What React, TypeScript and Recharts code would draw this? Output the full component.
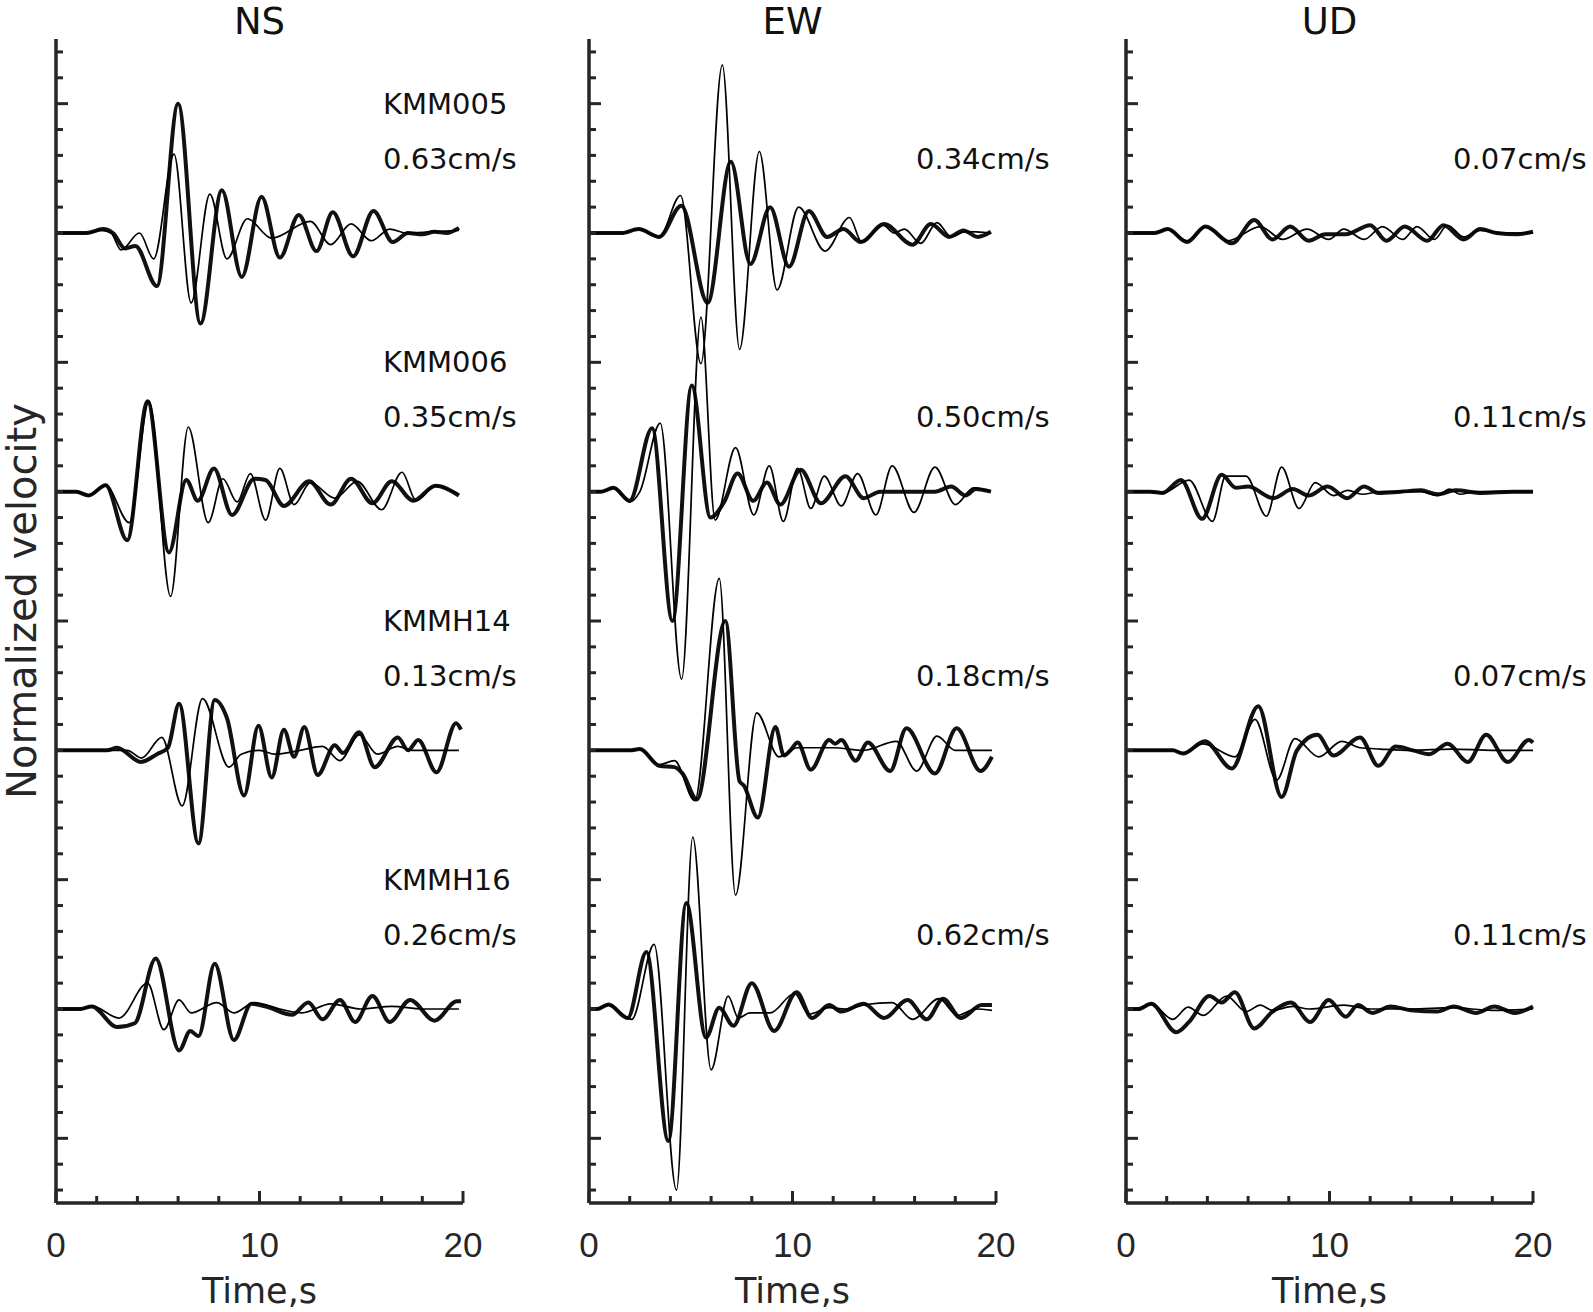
import React from "react";
import { LineChart, Line, XAxis, YAxis } from "recharts";

type Pt = [number, number];

const COMPONENTS = ["NS", "EW", "UD"];
const STATIONS = ["KMM005", "KMM006", "KMMH14", "KMMH16"];
const PEAK_NS = [0.63, 0.35, 0.13, 0.26];
const PEAK_EW = [0.34, 0.5, 0.18, 0.62];
const PEAK_UD = [0.07, 0.11, 0.07, 0.11];
const X_TICKS = [0, 2, 4, 6, 8, 10, 12, 14, 16, 18, 20];
const X_LABELS = [0, 10, 20];
const Y_MAJOR = [1, -1, -3, -5, -7];

// minor ticks every 0.2 on the normalized scale
const Y_TICKS: number[] = [];
for (let i = 0; i <= 44; i++) Y_TICKS.push(Math.round((-7.4 + i * 0.2) * 10) / 10);

// [time s, normalized velocity] — thick = observed, thin = synthetic
const NS_KMM005_OBS: Pt[] = [[0, 0], [1.5, 0], [2.3, 0.03], [2.8, 0], [3.4, -0.12], [3.9, -0.1], [4.96, -0.41], [6.0, 1.0], [7.1, -0.7], [8.15, 0.33], [9.13, -0.34], [10.1, 0.28], [11.0, -0.19], [11.93, 0.14], [12.8, -0.14], [13.6, 0.16], [14.6, -0.18], [15.6, 0.17], [16.55, -0.07], [17.3, 0], [18.0, -0.01], [18.6, 0.01], [19.2, 0], [19.8, 0.04]];
const NS_KMM005_SYN: Pt[] = [[0, 0], [1.5, 0], [2.2, 0.02], [2.7, 0], [3.2, -0.13], [4.1, 0], [4.8, -0.2], [5.8, 0.61], [6.64, -0.54], [7.56, 0.3], [8.4, -0.2], [9.4, 0.11], [10.6, -0.04], [12.5, 0.09], [13.5, -0.09], [14.5, 0.07], [15.5, -0.06], [16.4, 0.03], [17.2, 0], [18.5, 0.01], [19.8, 0.02]];
const NS_KMM006_OBS: Pt[] = [[0, 0], [1.0, 0], [1.6, -0.03], [2.44, 0.05], [3.5, -0.375], [4.5, 0.7], [5.55, -0.47], [6.4, 0.09], [6.97, -0.07], [7.76, 0.18], [8.65, -0.18], [9.75, 0.1], [10.3, 0.09], [11.2, -0.11], [12.44, 0.08], [13.5, -0.1], [14.5, 0.1], [15.55, -0.09], [16.5, 0.08], [17.56, -0.07], [18.65, 0.045], [19.8, -0.03]];
const NS_KMM006_SYN: Pt[] = [[0, 0], [1.0, 0], [1.6, -0.03], [2.44, 0.05], [3.6, -0.24], [4.57, 0.7], [5.63, -0.81], [6.5, 0.5], [7.48, -0.24], [8.2, 0.1], [8.9, -0.08], [9.55, 0.14], [10.3, -0.22], [11.0, 0.18], [11.7, -0.1], [12.5, 0.07], [13.7, -0.05], [14.8, 0.08], [16.0, -0.14], [17.0, 0.15], [17.7, -0.07], [18.65, 0.045], [19.8, -0.02]];
const NS_KMMH14_OBS: Pt[] = [[0, 0], [2.5, 0], [3.0, 0.02], [4.17, -0.09], [4.96, -0.03], [5.5, 0.02], [6.05, 0.36], [7.0, -0.72], [7.8, 0.39], [8.4, 0.25], [9.24, -0.35], [9.95, 0.19], [10.6, -0.21], [11.2, 0.16], [11.7, -0.05], [12.2, 0.18], [12.86, -0.19], [13.7, 0.04], [14.1, -0.02], [14.9, 0.14], [15.66, -0.13], [16.8, 0.1], [17.3, 0], [17.8, 0.08], [18.7, -0.17], [19.66, 0.21], [19.9, 0.16]];
const NS_KMMH14_SYN: Pt[] = [[0, 0], [3.5, 0], [4.2, -0.06], [5.2, 0.1], [6.2, -0.43], [7.2, 0.4], [8.5, -0.13], [9.1, -0.03], [10.0, 0], [10.75, -0.03], [12.0, 0], [13.1, 0.03], [13.95, -0.08], [14.9, 0.12], [15.8, -0.03], [16.8, 0.03], [17.5, 0], [19.8, 0]];
const NS_KMMH16_OBS: Pt[] = [[0, 0], [1.2, 0], [1.76, 0.02], [3.0, -0.14], [3.87, -0.11], [4.9, 0.39], [6.05, -0.32], [6.6, -0.17], [7.0, -0.21], [7.8, 0.35], [8.74, -0.24], [9.6, 0.04], [10.4, 0.015], [11.6, -0.045], [12.4, 0.05], [13.1, -0.08], [13.95, 0.07], [14.7, -0.1], [15.55, 0.1], [16.4, -0.1], [17.4, 0.07], [18.6, -0.09], [19.7, 0.06], [19.9, 0.06]];
const NS_KMMH16_SYN: Pt[] = [[0, 0], [1.2, 0], [1.8, 0.02], [3.1, -0.07], [4.5, 0.2], [5.3, -0.16], [6.05, 0.07], [6.64, -0.03], [7.9, 0.05], [8.74, -0.03], [9.75, 0.05], [11.0, 0], [12.1, -0.03], [13.5, 0.04], [15.0, 0], [16.5, 0.02], [18.0, 0], [19.8, 0]];

const EW_KMM005_OBS: Pt[] = [[0, 0], [1.6, 0], [2.44, 0.03], [3.45, -0.03], [4.54, 0.21], [5.83, -0.54], [6.97, 0.55], [7.93, -0.24], [8.9, 0.2], [9.83, -0.26], [10.8, 0.17], [11.7, -0.03], [12.5, 0.03], [13.36, -0.07], [14.5, 0.07], [15.9, -0.09], [16.8, 0.07], [17.7, -0.03], [18.4, 0.02], [19.1, -0.03], [19.75, 0.01]];
const EW_KMM005_SYN: Pt[] = [[0, 0], [1.6, 0], [2.44, 0.03], [3.45, -0.03], [4.5, 0.29], [5.5, -1.01], [6.55, 1.3], [7.4, -0.9], [8.37, 0.63], [9.24, -0.44], [10.3, 0.2], [11.6, -0.14], [12.8, 0.12], [13.4, -0.07], [14.45, 0.06], [15.0, 0], [15.5, 0.03], [16.3, -0.08], [17.1, 0.08], [17.8, -0.03], [18.5, 0.01], [19.75, 0]];
const EW_KMM006_OBS: Pt[] = [[0, 0], [0.6, 0], [1.2, 0.03], [2.0, -0.07], [3.1, 0.49], [4.1, -1.0], [5.05, 0.82], [5.97, -0.2], [6.64, -0.08], [7.3, 0.14], [8.07, -0.07], [8.74, 0.07], [9.4, -0.1], [10.4, 0.17], [11.4, -0.09], [12.6, 0.12], [13.5, -0.05], [14.3, 0], [17.0, 0], [17.8, 0.04], [18.5, -0.03], [19.0, 0.02], [19.75, 0]];
const EW_KMM006_SYN: Pt[] = [[0, 0], [0.6, 0], [1.2, 0.03], [2.0, -0.08], [2.5, 0], [3.5, 0.53], [4.55, -1.45], [5.5, 1.35], [6.2, -0.22], [7.2, 0.34], [8.1, -0.18], [8.86, 0.2], [9.55, -0.23], [10.25, 0.18], [10.9, -0.13], [11.56, 0.12], [12.4, -0.11], [13.2, 0.14], [14.1, -0.18], [14.9, 0.2], [15.97, -0.16], [17.0, 0.19], [18.0, -0.1], [18.9, 0.03], [19.75, 0]];
const EW_KMMH14_OBS: Pt[] = [[0, 0], [2.0, 0], [2.5, 0.01], [3.45, -0.12], [4.2, -0.13], [4.6, -0.18], [5.3, -0.38], [6.7, 1.0], [7.4, -0.24], [7.6, -0.27], [8.3, -0.52], [9.16, 0.18], [9.58, -0.04], [9.9, 0], [10.25, 0.06], [10.9, -0.15], [11.8, 0.08], [12.1, 0.05], [12.4, 0.08], [13.1, -0.08], [13.7, 0.06], [14.8, -0.16], [15.6, 0.17], [17.0, -0.18], [18.07, 0.17], [19.24, -0.16], [19.8, -0.05]];
const EW_KMMH14_SYN: Pt[] = [[0, 0], [2.0, 0], [2.5, 0.01], [3.45, -0.11], [4.2, -0.08], [5.2, -0.39], [6.4, 1.33], [7.2, -1.12], [8.24, 0.29], [9.33, -0.05], [10.25, 0.02], [12.0, 0.02], [13.5, 0], [15.1, 0.07], [16.1, -0.16], [17.1, 0.11], [18.0, 0], [19.8, 0]];
const EW_KMMH16_OBS: Pt[] = [[0, 0], [0.4, 0], [0.96, 0.035], [1.9, -0.07], [2.82, 0.44], [3.9, -1.02], [4.78, 0.82], [5.75, -0.22], [6.4, 0.01], [7.1, -0.13], [8.0, 0.2], [9.1, -0.17], [10.2, 0.13], [10.96, -0.07], [11.8, 0.03], [12.4, -0.02], [13.5, 0.04], [14.5, -0.07], [15.66, 0.07], [16.6, -0.08], [17.4, 0.08], [18.27, -0.07], [19.3, 0.03], [19.8, 0.03]];
const EW_KMMH16_SYN: Pt[] = [[0, 0], [0.4, 0], [0.96, 0.03], [2.1, -0.08], [3.2, 0.5], [4.3, -1.4], [5.1, 1.33], [6.0, -0.47], [6.84, 0.1], [7.34, -0.07], [7.9, -0.03], [8.9, -0.03], [10.1, 0.12], [10.8, -0.04], [11.8, 0.01], [12.6, 0], [13.6, 0.035], [14.9, 0.05], [15.9, -0.08], [17.2, 0.08], [18.1, -0.05], [19.0, 0], [19.8, -0.01]];

const UD_KMM005_OBS: Pt[] = [[0, 0], [1.4, 0], [2.05, 0.03], [3.0, -0.07], [3.9, 0.05], [5.2, -0.08], [6.3, 0.1], [7.2, -0.05], [8.07, 0.05], [8.97, -0.06], [9.8, -0.01], [10.8, -0.01], [12.0, 0.06], [12.8, -0.06], [13.7, 0.05], [14.8, -0.06], [15.6, 0.06], [16.6, -0.05], [17.4, 0.03], [18.2, 0], [19.2, -0.01], [20, 0.01]];
const UD_KMM005_SYN: Pt[] = [[0, 0], [1.4, 0], [2.05, 0.03], [3.0, -0.06], [3.9, 0.05], [5.0, -0.06], [6.6, 0.05], [7.7, -0.05], [8.9, 0.03], [9.96, -0.05], [10.7, 0.03], [11.7, -0.05], [12.6, 0.05], [13.6, -0.05], [14.3, 0.05], [15.15, -0.05], [15.8, 0.06], [16.6, -0.03], [17.4, 0.02], [18.5, 0], [20, 0]];
const UD_KMM006_OBS: Pt[] = [[0, 0], [1.2, 0], [1.8, -0.01], [2.7, 0.09], [3.74, -0.21], [4.7, 0.13], [5.4, 0.03], [6.0, 0.04], [7.24, -0.05], [8.2, 0.02], [8.97, -0.03], [9.9, 0.04], [10.86, -0.05], [11.7, 0.04], [12.4, -0.01], [13.5, 0], [14.5, 0.01], [15.3, -0.02], [16.2, 0.01], [17.5, -0.01], [19.0, 0], [20, 0]];
const UD_KMM006_SYN: Pt[] = [[0, 0], [1.2, 0], [1.8, -0.01], [3.1, 0.09], [4.25, -0.23], [4.9, 0.12], [5.9, 0.12], [6.9, -0.19], [7.65, 0.19], [8.5, -0.13], [9.3, 0.07], [10.2, -0.03], [10.9, 0.01], [11.6, -0.02], [12.5, 0], [14.5, 0], [15.3, -0.03], [15.9, 0.02], [16.4, -0.02], [17.2, 0], [20, 0]];
const UD_KMMH14_OBS: Pt[] = [[0, 0], [2.3, 0], [2.8, -0.025], [3.87, 0.07], [5.2, -0.14], [6.5, 0.34], [7.65, -0.36], [8.4, 0], [9.4, 0.12], [10.2, -0.04], [11.5, 0.1], [12.4, -0.12], [13.25, 0.03], [14.1, 0], [14.9, -0.03], [15.8, 0.05], [16.8, -0.09], [17.7, 0.12], [18.76, -0.09], [19.8, 0.08], [20, 0.06]];
const UD_KMMH14_SYN: Pt[] = [[0, 0], [2.3, 0], [2.8, -0.02], [3.8, 0.05], [5.35, -0.05], [6.34, 0.24], [7.4, -0.23], [8.3, 0.09], [9.47, -0.05], [10.6, 0.07], [11.5, 0.02], [12.5, 0.01], [14.0, 0], [16.0, 0.01], [18.0, 0], [20, 0]];
const UD_KMMH16_OBS: Pt[] = [[0, 0], [0.6, 0], [1.24, 0.04], [2.47, -0.18], [3.1, -0.1], [4.1, 0.1], [4.7, 0.05], [5.35, 0.13], [6.3, -0.15], [7.2, -0.02], [8.1, 0.05], [9.05, -0.1], [9.96, 0.07], [10.8, -0.06], [11.4, 0.03], [12.1, -0.03], [13.0, 0.02], [14.0, -0.01], [15.3, -0.02], [16.1, 0.02], [17.2, -0.03], [18.1, 0.02], [19.1, -0.03], [20, 0.02]];
const UD_KMMH16_SYN: Pt[] = [[0, 0], [0.6, 0], [1.24, 0.04], [2.3, -0.08], [3.05, 0.015], [3.8, -0.05], [4.94, 0.1], [5.9, -0.02], [6.6, 0.03], [7.2, -0.01], [8.2, 0.02], [9.0, 0], [10.7, 0.03], [12.0, 0], [14.0, 0], [16.0, 0.01], [18.0, -0.01], [20, 0]];

const TRACES: Record<string, [Pt[], Pt[]][]> = {
  NS: [[NS_KMM005_OBS, NS_KMM005_SYN], [NS_KMM006_OBS, NS_KMM006_SYN], [NS_KMMH14_OBS, NS_KMMH14_SYN], [NS_KMMH16_OBS, NS_KMMH16_SYN]],
  EW: [[EW_KMM005_OBS, EW_KMM005_SYN], [EW_KMM006_OBS, EW_KMM006_SYN], [EW_KMMH14_OBS, EW_KMMH14_SYN], [EW_KMMH16_OBS, EW_KMMH16_SYN]],
  UD: [[UD_KMM005_OBS, UD_KMM005_SYN], [UD_KMM006_OBS, UD_KMM006_SYN], [UD_KMMH14_OBS, UD_KMMH14_SYN], [UD_KMMH16_OBS, UD_KMMH16_SYN]],
};
const PEAKS: Record<string, number[]> = { NS: PEAK_NS, EW: PEAK_EW, UD: PEAK_UD };

const PANEL_X0 = [56, 589, 1126];
const PLOT_W = 407;
const PLOT_TOP = 39;
const PLOT_BOTTOM = 1203;
const PAD = 50;
const AXIS = "#262626";
const TEXT_FONT = "'DejaVu Sans', sans-serif";
const NUM_FONT = "'Liberation Sans', Arial, sans-serif";
const UNIT_PX = (PLOT_BOTTOM - PLOT_TOP) / 9;

const XTick = (props: any) => {
  const { x, y, payload } = props;
  const major = X_LABELS.includes(payload.value);
  return (
    <g>
      <line x1={x} x2={x} y1={y} y2={y - (major ? 12 : 7)} stroke={AXIS} strokeWidth={3} />
      {major && (
        <text x={x} y={y + 54} textAnchor="middle" fontSize={35} fontFamily={NUM_FONT} fill={AXIS}>
          {payload.value}
        </text>
      )}
    </g>
  );
};

const YTick = (props: any) => {
  const { x, y, payload } = props;
  const major = Y_MAJOR.includes(payload.value);
  return <line x1={x} x2={x + (major ? 12 : 7)} y1={y} y2={y} stroke={AXIS} strokeWidth={3} />;
};

const toSeries = (pts: Pt[], offset: number) => pts.map(([t, a]) => ({ t, v: a + offset }));

const Panel = ({ idx }: { idx: number }) => {
  const comp = COMPONENTS[idx];
  const x0 = PANEL_X0[idx];
  return (
    <div style={{ position: "absolute", left: x0 - PAD, top: 0 }}>
      <LineChart
        width={PLOT_W + 2 * PAD}
        height={1312}
        margin={{ top: PLOT_TOP, right: PAD, bottom: 1312 - PLOT_BOTTOM - 60, left: PAD - 1 }}
      >
        <XAxis
          type="number"
          dataKey="t"
          domain={[0, 20]}
          ticks={X_TICKS}
          interval={0}
          height={60}
          tickSize={0}
          tickMargin={0}
          tickLine={false}
          axisLine={{ stroke: AXIS, strokeWidth: 3.5 }}
          tick={XTick}
          label={{ value: "Time,s", position: "bottom", offset: 15, fontSize: 35, fill: AXIS, fontFamily: TEXT_FONT }}
        />
        <YAxis
          type="number"
          domain={[-7.5, 1.5]}
          ticks={Y_TICKS}
          interval={0}
          width={1}
          tickSize={0}
          tickMargin={0}
          tickLine={false}
          allowDataOverflow
          axisLine={{ stroke: AXIS, strokeWidth: 3.5 }}
          tick={YTick}
        />
        {TRACES[comp].map(([obs, syn], i) => [
          <Line
            key={`${comp}-obs-${i}`}
            data={toSeries(obs, -2 * i)}
            dataKey="v"
            type="monotone"
            stroke="#111"
            strokeWidth={4}
            dot={false}
            isAnimationActive={false}
          />,
          <Line
            key={`${comp}-syn-${i}`}
            data={toSeries(syn, -2 * i)}
            dataKey="v"
            type="monotone"
            stroke="#000"
            strokeWidth={1.7}
            dot={false}
            isAnimationActive={false}
          />,
        ])}
      </LineChart>
    </div>
  );
};

const labelStyle = (left: number, cy: number): React.CSSProperties => ({
  position: "absolute",
  left,
  top: cy,
  transform: "translateY(-50%)",
  fontSize: 29,
  lineHeight: 1,
  whiteSpace: "nowrap",
  color: "#111",
});

export default function App() {
  return (
    <div
      style={{
        position: "absolute",
        left: 0,
        top: 0,
        width: 1593,
        height: 1312,
        background: "#fff",
        fontFamily: TEXT_FONT,
        overflow: "hidden",
      }}
    >
      {COMPONENTS.map((comp, idx) => (
        <React.Fragment key={comp}>
          <Panel idx={idx} />
          <div
            style={{
              position: "absolute",
              left: PANEL_X0[idx] + PLOT_W / 2,
              top: 21,
              transform: "translate(-50%, -50%)",
              fontSize: 37,
              lineHeight: 1,
              color: "#111",
            }}
          >
            {comp}
          </div>
          {STATIONS.map((st, i) => {
            const tickY = PLOT_TOP + (1.5 - (1 - 2 * i)) * UNIT_PX;
            return (
              <React.Fragment key={st}>
                {idx === 0 && <div style={labelStyle(PANEL_X0[idx] + 327, tickY)}>{st}</div>}
                <div style={labelStyle(PANEL_X0[idx] + 327, tickY + 55)}>
                  {PEAKS[comp][i].toFixed(2)}cm/s
                </div>
              </React.Fragment>
            );
          })}
        </React.Fragment>
      ))}
      <div
        style={{
          position: "absolute",
          left: 22,
          top: 601,
          transform: "translate(-50%, -50%) rotate(-90deg)",
          fontSize: 40,
          lineHeight: 1.2,
          whiteSpace: "nowrap",
          color: AXIS,
        }}
      >
        Normalized velocity
      </div>
    </div>
  );
}
